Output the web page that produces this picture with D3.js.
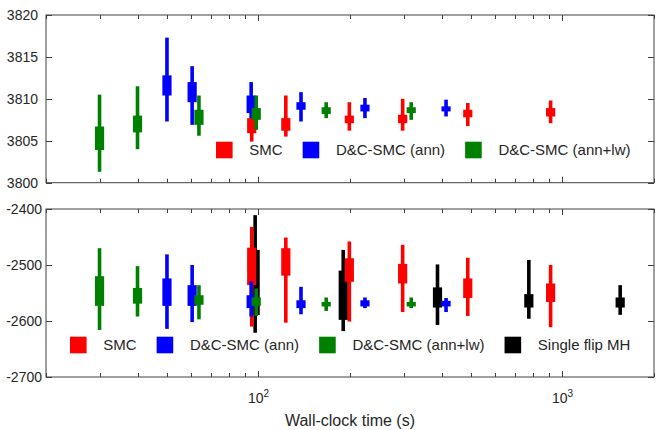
<!DOCTYPE html>
<html>
<head>
<meta charset="utf-8">
<script src="https://cdn.jsdelivr.net/npm/d3@7"></script>
<style>
    body{margin:0;background:#fff;}
    svg{display:block;font-family:"Liberation Sans",Arial,sans-serif;}
</style>
</head>
<body>
<div id="chart"></div>
<script>
// wall-clock times (s) of each run
var smcTime = [95, 123, 199, 298, 488, 914];
var annTime = [50, 60.5, 94.6, 138, 224, 414];
var lwTime = [30, 40, 63.7, 98.3, 167, 318];
var mhTime = [97.5, 190, 388, 775, 1548];

// [min, q1, q3, max] per run, top panel
var topSmc = [[3804.9, 3805.9, 3807.7, 3810.0], [3805.5, 3806.2, 3807.7, 3810.4], [3806.2, 3807.1, 3808.0, 3809.6],
              [3806.2, 3807.1, 3808.1, 3810.0], [3806.75, 3807.8, 3808.7, 3809.5], [3807.1, 3807.9, 3808.9, 3809.8]];
var topAnn = [[3807.3, 3810.4, 3812.8, 3817.3], [3806.9, 3809.6, 3812.0, 3813.9], [3807.7, 3808.3, 3810.4, 3812.0],
              [3807.3, 3808.7, 3809.6, 3810.8], [3807.7, 3808.5, 3809.3, 3810.1], [3807.9, 3808.5, 3809.1, 3809.9]];
var topLw = [[3801.3, 3803.9, 3806.7, 3810.5], [3804.0, 3806.0, 3808.0, 3811.5], [3805.6, 3806.9, 3808.7, 3810.4],
             [3806.3, 3807.5, 3808.9, 3810.4], [3807.7, 3808.2, 3809.0, 3809.6], [3807.5, 3808.3, 3809.0, 3809.6]];

// [min, q1, q3, max] per run, bottom panel
var botSmc = [[-2610, -2536, -2469, -2432], [-2603, -2519, -2470, -2451], [-2601, -2530, -2488, -2458],
              [-2584, -2533, -2498, -2464], [-2591, -2559, -2524, -2487], [-2611, -2566, -2533, -2500]];
var botAnn = [[-2614, -2573, -2524, -2481], [-2602, -2573, -2536, -2500], [-2592, -2577, -2554, -2529],
              [-2588, -2577, -2563, -2539], [-2577, -2574, -2563, -2558], [-2584, -2574, -2564, -2559]];
var botLw = [[-2616, -2573, -2520, -2470], [-2592, -2569, -2541, -2502], [-2597, -2571, -2554, -2536],
             [-2591, -2573, -2558, -2542], [-2582, -2574, -2566, -2558], [-2577, -2574, -2566, -2558]];
var botMh = [[-2621, -2589, -2473, -2411], [-2618, -2598, -2510, -2473], [-2607, -2576, -2540, -2499],
             [-2596, -2576, -2552, -2491], [-2589, -2576, -2558, -2536]];

var topTicks = [3800, 3805, 3810, 3815, 3820];
var botTicks = [-2700, -2600, -2500, -2400];
var xMajor = [100, 1000];

var W = 660, H = 430;
var left = 46, right = 654;
var axisColor = "#404040", textColor = "#262626";

var svg = d3.select("#chart").append("svg").attr("width", W).attr("height", H);

var x = d3.scaleLog().domain([20, 2000]).range([left, right]);
var xMinor = [];
[10, 100, 1000].forEach(function(d){ for (var k=1;k<10;k++){ var v=d*k; if (v>=20 && v<=2000 && xMajor.indexOf(v)<0) xMinor.push(v);} });

function drawPanel(opt){
    var y = d3.scaleLinear().domain(opt.domain).range([opt.bottom, opt.top]);
    var g = svg.append("g");

    // boxes and whiskers, MH first so it sits behind
    opt.series.forEach(function(s){
        var sg = g.append("g").attr("fill", s.color);
        sg.selectAll(".whisker").data(s.values).enter().append("rect")
            .attr("x", function(d,i){ return x(s.time[i]) - 1.8; })
            .attr("width", 3.6)
            .attr("y", function(d){ return y(d[3]); })
            .attr("height", function(d){ return y(d[0]) - y(d[3]); });
        sg.selectAll(".box").data(s.values).enter().append("rect")
            .attr("x", function(d,i){ return x(s.time[i]) - 4.6; })
            .attr("width", 9.2)
            .attr("y", function(d){ return y(d[2]); })
            .attr("height", function(d){ return y(d[1]) - y(d[2]); });
    });

    // frame
    g.append("rect").attr("x", left).attr("y", opt.top).attr("width", right-left).attr("height", opt.bottom-opt.top)
        .attr("fill", "none").attr("stroke", axisColor).attr("stroke-width", 1);

    // x ticks on both edges
    var ticks = xMajor.map(function(v){ return {v: v, len: 6}; }).concat(xMinor.map(function(v){ return {v: v, len: 4}; }));
    ticks.forEach(function(t){
        var px = Math.round(x(t.v)) + 0.5;
        g.append("line").attr("x1", px).attr("x2", px).attr("y1", opt.bottom).attr("y2", opt.bottom - t.len).attr("stroke", axisColor);
        g.append("line").attr("x1", px).attr("x2", px).attr("y1", opt.top).attr("y2", opt.top + t.len).attr("stroke", axisColor);
    });

    // y ticks and labels
    opt.ticks.forEach(function(v){
        var py = Math.round(y(v)) + 0.5;
        g.append("line").attr("x1", left).attr("x2", left + 6).attr("y1", py).attr("y2", py).attr("stroke", axisColor);
        g.append("line").attr("x1", right).attr("x2", right - 6).attr("y1", py).attr("y2", py).attr("stroke", axisColor);
        g.append("text").attr("x", opt.labelX).attr("y", py).attr("dy", "0.35em")
            .attr("text-anchor", "end").attr("font-size", 14).attr("fill", textColor).text(v);
    });

    if (opt.xLabels){
        xMajor.forEach(function(v){
            var t = g.append("text").attr("x", x(v)).attr("y", 403).attr("text-anchor", "middle")
                .attr("font-size", 14).attr("fill", textColor);
            t.append("tspan").text("10");
            t.append("tspan").attr("font-size", 10).attr("dy", -6).text(Math.round(Math.log10(v)));
        });
    }

    // legend
    var lx = opt.legendX;
    opt.series.slice().sort(function(a,b){ return a.order - b.order; }).forEach(function(s){
        g.append("rect").attr("x", lx).attr("y", opt.legendY - 8.3).attr("width", 16.6).attr("height", 16.6).attr("fill", s.color);
        var t = g.append("text").attr("x", lx + 33.3).attr("y", opt.legendY).attr("dy", "0.35em")
            .attr("font-size", 15).attr("fill", textColor).text(s.name);
        lx = lx + 33.3 + t.node().getComputedTextLength() + 20;
    });
}

drawPanel({
    top: 15, bottom: 182.7, domain: [3800, 3820], ticks: topTicks, labelX: 38,
    legendX: 216, legendY: 150,
    series: [
        {name: "SMC", color: "#ff0000", time: smcTime, values: topSmc, order: 0},
        {name: "D&C-SMC (ann)", color: "#0000ff", time: annTime, values: topAnn, order: 1},
        {name: "D&C-SMC (ann+lw)", color: "#008000", time: lwTime, values: topLw, order: 2}
    ]
});

drawPanel({
    top: 209, bottom: 377, domain: [-2700, -2400], ticks: botTicks, labelX: 42, xLabels: true,
    legendX: 70, legendY: 345,
    series: [
        {name: "Single flip MH", color: "#000000", time: mhTime, values: botMh, order: 3},
        {name: "SMC", color: "#ff0000", time: smcTime, values: botSmc, order: 0},
        {name: "D&C-SMC (ann)", color: "#0000ff", time: annTime, values: botAnn, order: 1},
        {name: "D&C-SMC (ann+lw)", color: "#008000", time: lwTime, values: botLw, order: 2}
    ]
});

svg.append("text").attr("x", (left + right)/2).attr("y", 426).attr("text-anchor", "middle")
    .attr("font-size", 16).attr("fill", textColor).text("Wall-clock time (s)");
</script>
</body>
</html>
